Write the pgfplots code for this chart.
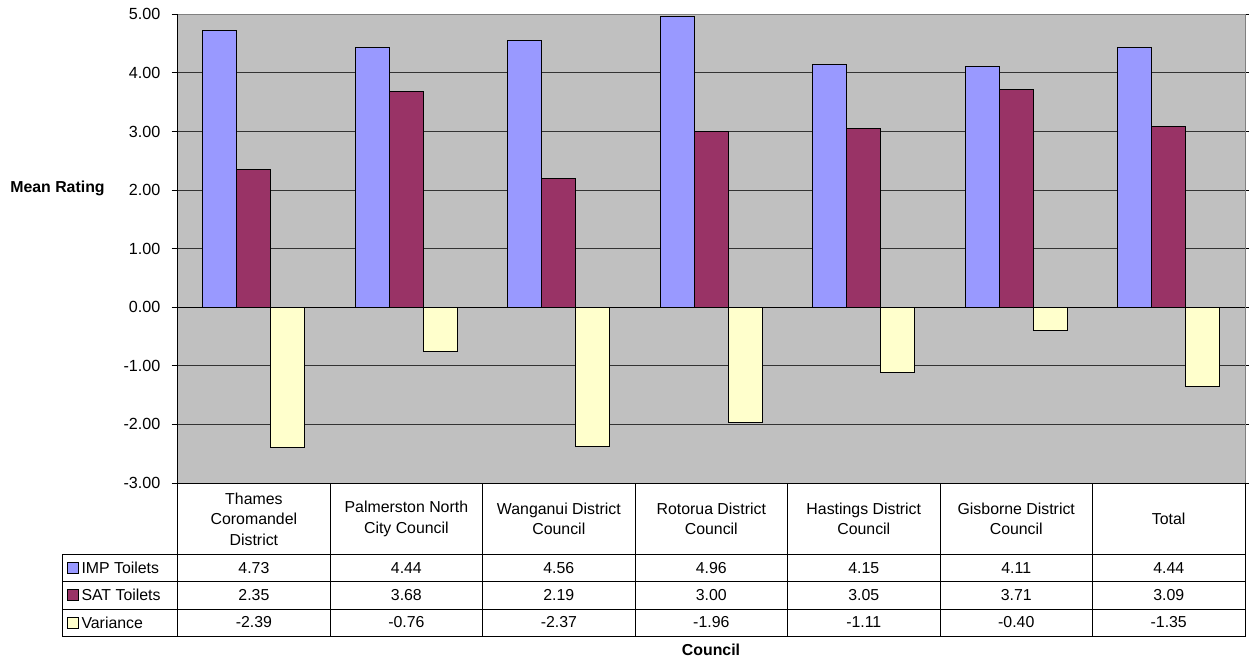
\documentclass[border=0pt]{standalone}
\usepackage{pgfplots}
\pgfplotsset{compat=1.18}
\usepackage{fontspec}
\setmainfont{Liberation Sans}
\definecolor{imp}{RGB}{153,153,255}
\definecolor{sat}{RGB}{153,51,102}
\definecolor{var}{RGB}{255,255,204}
\definecolor{plotbg}{RGB}{192,192,192}
\begin{document}
\begin{tikzpicture}[font=\fontsize{11.9}{15.4}\selectfont]
\useasboundingbox (0,0) rectangle (1249*0.75pt,-663*0.75pt);
\begin{axis}[
  at={(177.7*0.75pt,-483*0.75pt)}, anchor=south west,
  scale only axis, width=800.5pt, height=351.5pt,
  ymin=-3, ymax=5, ytick={-3,-2,...,5},
  xmin=-0.5, xmax=6.5, xtick=\empty,
  ybar=0pt, bar width=25.5pt,
  axis background/.style={fill=plotbg},
  ymajorgrids, grid style={black!80, line width=0.75pt},
  axis line style={draw=gray, line width=0.75pt},
  tick align=outside, major tick length=4.5pt,
  ytick style={black, line width=0.75pt},
  /pgf/number format/assume math mode=true,
  yticklabel style={font=\fontsize{12.1}{14}\selectfont, xshift=-5pt,
    /pgf/number format/fixed, /pgf/number format/fixed zerofill,
    /pgf/number format/precision=2},
]
\addplot[fill=imp, draw=black, line width=0.75pt] coordinates {(0,4.73) (1,4.44) (2,4.56) (3,4.96) (4,4.15) (5,4.11) (6,4.44)};
\addplot[fill=sat, draw=black, line width=0.75pt] coordinates {(0,2.35) (1,3.68) (2,2.19) (3,3.00) (4,3.05) (5,3.71) (6,3.09)};
\addplot[fill=var, draw=black, line width=0.75pt] coordinates {(0,-2.39) (1,-0.76) (2,-2.37) (3,-1.96) (4,-1.11) (5,-0.40) (6,-1.35)};
\draw[black, line width=0.75pt] (axis cs:-0.5,0) -- (axis cs:6.5,0);
\end{axis}
\begin{scope}[x=0.75pt,y=-0.75pt, line width=0.75pt]
 \draw (177.7,14.3) -- (177.7,483);
 \draw (177.7,483) -- (1245,483) -- (1245,636) -- (62.7,636) -- (62.7,554) -- (1245,554);
 \draw (62.7,581.3) -- (1245,581.3);
 \draw (62.7,609) -- (1245,609);
 \foreach \i in {1,...,6} \draw (177.7+152.47*\i,483) -- (177.7+152.47*\i,636);
 \draw (177.7,483) -- (177.7,636);
 \foreach \t [count=\i from 0] in {{Thames\\Coromandel\\District},{Palmerston North\\City Council},{Wanganui District\\Council},{Rotorua District\\Council},{Hastings District\\Council},{Gisborne District\\Council},{Total}}
   \node[align=center, inner sep=0pt] at (177.7+152.47*\i+76.2,519) {\t};
 \foreach \v [count=\i from 0] in {4.73,4.44,4.56,4.96,4.15,4.11,4.44}
   \node at (177.7+152.47*\i+76.2,567.7) {\v};
 \foreach \v [count=\i from 0] in {2.35,3.68,2.19,3.00,3.05,3.71,3.09}
   \node at (177.7+152.47*\i+76.2,595.2) {\v};
 \foreach \v [count=\i from 0] in {-2.39,-0.76,-2.37,-1.96,-1.11,-0.40,-1.35}
   \node at (177.7+152.47*\i+76.2,622.4) {\v};
 \draw[fill=imp] (67,562) rectangle (78,573);
 \draw[fill=sat] (67,589.5) rectangle (78,600.5);
 \draw[fill=var] (67,617) rectangle (78,628);
 \node[anchor=west, inner sep=0pt] at (81,567.7) {IMP Toilets};
 \node[anchor=west, inner sep=0pt] at (81,595.2) {SAT Toilets};
 \node[anchor=west, inner sep=0pt] at (81,622.4) {Variance};
 \node at (57.5,188) {\textbf{Mean Rating}};
 \node at (711,650) {\textbf{Council}};
\end{scope}
\end{tikzpicture}
\end{document}
